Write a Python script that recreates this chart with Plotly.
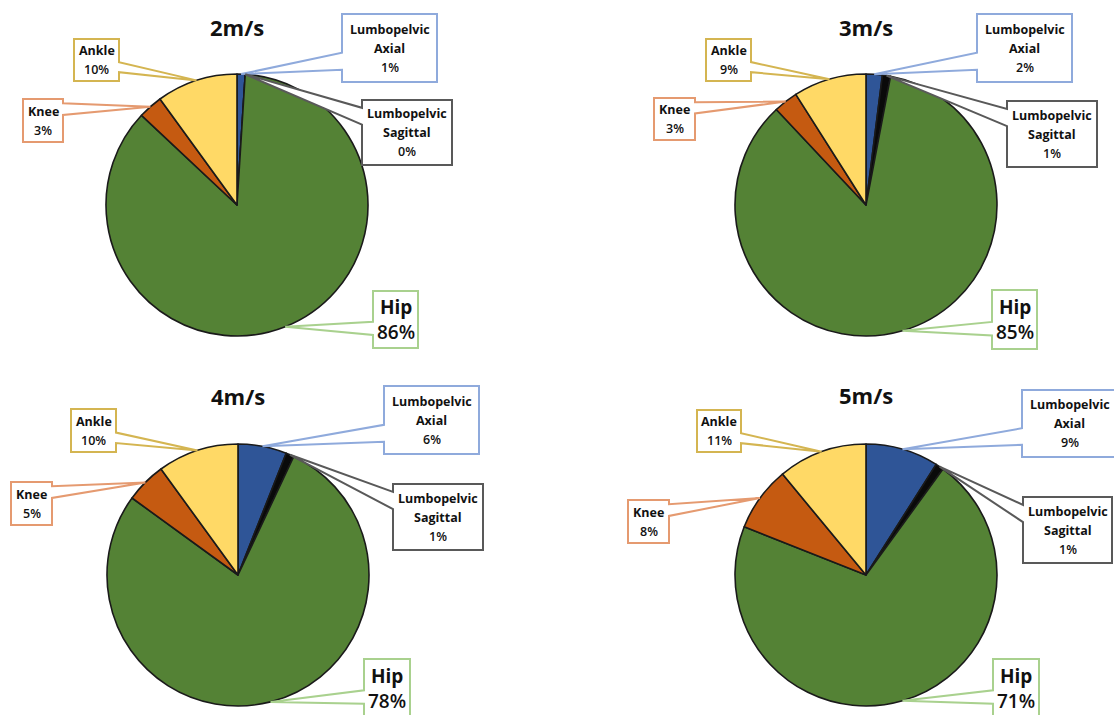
import math
import plotly.graph_objects as go

# ---- data -------------------------------------------------------------
categories = ["Lumbopelvic Axial", "Lumbopelvic Sagittal", "Hip", "Knee", "Ankle"]
label_lines = [["Lumbopelvic", "Axial"], ["Lumbopelvic", "Sagittal"], ["Hip"], ["Knee"], ["Ankle"]]
speeds = ["2m/s", "3m/s", "4m/s", "5m/s"]
share_2 = [1, 0, 86, 3, 10]
share_3 = [2, 1, 85, 3, 9]
share_4 = [6, 1, 78, 5, 10]
share_5 = [9, 1, 71, 8, 11]
shares = [share_2, share_3, share_4, share_5]

# ---- styling / layout -------------------------------------------------
W, H = 1114, 715
FONT = "Open Sans"
slice_colors = ["#2F5597", "#0A0A0A", "#548235", "#C55A11", "#FFD966"]
callout_colors = ["#8FAADC", "#595959", "#A9D18E", "#E59A70", "#D4B551"]
# notch on the box edge where the callout tail leaves (fractions of box height)
notch = [(0.57, 0.82), (0.12, 0.38), (0.54, 0.77), (0.10, 0.37), (0.55, 0.79)]

panels = [
    dict(center=(237, 205), radius=131, title_y=27,
         boxes=[(342, 14, 437, 82), (362, 100, 452, 165), (373, 291, 418, 348),
                (23, 99, 63, 142), (74, 39, 119, 81)]),
    dict(center=(866, 205), radius=131, title_y=27,
         boxes=[(977, 14, 1072, 82), (1007, 101, 1097, 167), (992, 290, 1037, 349),
                (654, 98, 695, 140), (706, 39, 751, 81)]),
    dict(center=(238, 575), radius=131, title_y=396,
         boxes=[(384, 386, 479, 454), (393, 484, 483, 550), (364, 659, 410, 717),
                (11, 482, 52, 525), (71, 409, 116, 452)]),
    dict(center=(866, 575), radius=131, title_y=395,
         boxes=[(1022, 390, 1117, 457), (1023, 497, 1112, 563), (993, 659, 1039, 717),
                (628, 500, 669, 543), (697, 410, 741, 452)]),
]

fig = go.Figure()

# full-page pixel frame used for the callouts and titles
fig.add_trace(go.Scatter(x=[0, W], y=[0, H], mode="markers",
                         marker=dict(opacity=0), hoverinfo="skip", showlegend=False))

shapes = []
annotations = []

for speed, vals, p in zip(speeds, shares, panels):
    cx, cy = p["center"]
    r = p["radius"]
    fig.add_trace(go.Pie(
        labels=categories, values=vals, sort=False, direction="clockwise", rotation=0,
        marker=dict(colors=slice_colors, line=dict(color="#1A1A1A", width=1.6)),
        textinfo="none", hoverinfo="label+percent", showlegend=False,
        domain=dict(x=[(cx - r) / W, (cx + r) / W], y=[1 - (cy + r) / H, 1 - (cy - r) / H]),
    ))

    annotations.append(dict(x=cx, y=p["title_y"], xref="x", yref="y", text=f"<b>{speed}</b>",
                            showarrow=False, font=dict(family=FONT, size=22, color="#111111")))

    total = sum(vals)
    cum = 0.0
    for i, v in enumerate(vals):
        theta = 2 * math.pi * (cum + v / 2) / total
        cum += v
        tx = cx + r * math.sin(theta)
        ty = cy - r * math.cos(theta)

        x0, y0, x1, y1 = p["boxes"][i]
        ya = y0 + notch[i][0] * (y1 - y0)
        yb = y0 + notch[i][1] * (y1 - y0)
        if (x0 + x1) / 2 < tx:
            # tail leaves the right edge
            path = (f"M{x0},{y0} H{x1} V{ya:.1f} L{tx:.1f},{ty:.1f} L{x1},{yb:.1f} "
                    f"V{y1} H{x0} Z")
        else:
            # tail leaves the left edge
            path = (f"M{x0},{y0} H{x1} V{y1} H{x0} V{yb:.1f} L{tx:.1f},{ty:.1f} "
                    f"L{x0},{ya:.1f} Z")
        shapes.append(dict(type="path", path=path, xref="x", yref="y", layer="above",
                           fillcolor="white", line=dict(color=callout_colors[i], width=2)))

        big = categories[i] == "Hip"
        size = 19 if big else 12.5
        step = 25 if big else 19
        lines = [(t, "bold") for t in label_lines[i]] + [(f"{v}%", 600)]
        mid = (y0 + y1) / 2
        n = len(lines)
        for k, (t, wt) in enumerate(lines):
            annotations.append(dict(
                x=(x0 + x1) / 2, y=mid + (k - (n - 1) / 2) * step, xref="x", yref="y",
                text=t, showarrow=False,
                font=dict(family=FONT, size=size, color="#111111", weight=wt)))

fig.update_layout(
    width=W, height=H,
    margin=dict(l=0, r=0, t=0, b=0, pad=0),
    paper_bgcolor="white", plot_bgcolor="white",
    xaxis=dict(range=[0, W], visible=False, fixedrange=True, domain=[0, 1]),
    yaxis=dict(range=[H, 0], visible=False, fixedrange=True, domain=[0, 1]),
    shapes=shapes, annotations=annotations, showlegend=False,
)

fig.write_html("out.html")
